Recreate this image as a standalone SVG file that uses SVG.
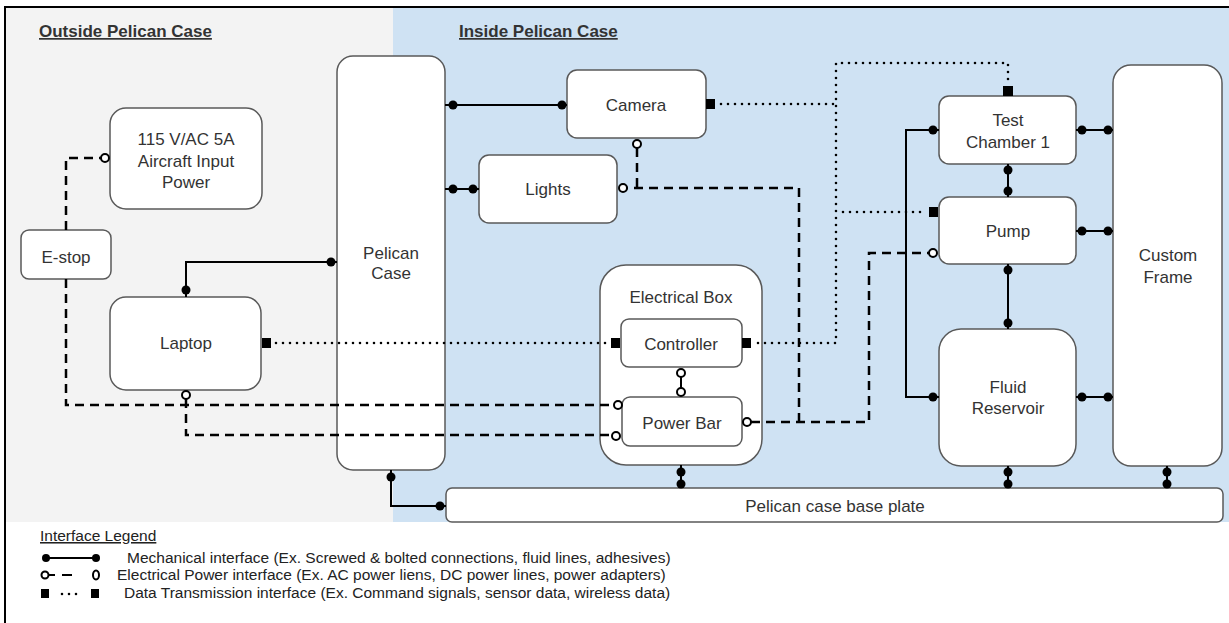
<svg xmlns="http://www.w3.org/2000/svg" width="1229" height="623" viewBox="0 0 1229 623">
<style>
.node{fill:#fff;stroke:#595959;stroke-width:1.5}
.t{font-family:"Liberation Sans",Arial,sans-serif;font-size:17px;fill:#333;text-anchor:middle}
.title{font-family:"Liberation Sans",Arial,sans-serif;font-size:17px;font-weight:bold;fill:#333;text-decoration:underline}
.lg{font-family:"Liberation Sans",Arial,sans-serif;font-size:15.5px;fill:#222}
.mech{fill:none;stroke:#000;stroke-width:2}
.elec{fill:none;stroke:#000;stroke-width:2.5;stroke-dasharray:9 6}
.data{fill:none;stroke:#000;stroke-width:2.6;stroke-dasharray:0 7;stroke-linecap:round}
.dot{fill:#000}
.ring{fill:#fff;stroke:#000;stroke-width:2}
.sq{fill:#000}
</style>
<rect x="0" y="0" width="1229" height="623" fill="#fff"/>
<rect x="5" y="7" width="388" height="515" fill="#f3f3f3"/>
<rect x="393" y="7" width="836" height="515" fill="#cfe2f3"/>
<path d="M5 623 V7 H1229" fill="none" stroke="#000" stroke-width="2"/>
<text class="title" x="39" y="37">Outside Pelican Case</text>
<text class="title" x="459" y="37">Inside Pelican Case</text>

<g id="aircraft-power"><rect class="node" x="110" y="108" width="152" height="101" rx="16"/>
<text class="t" x="186" y="145">115 V/AC 5A</text><text class="t" x="186" y="167">Aircraft Input</text><text class="t" x="186" y="188">Power</text></g>
<g id="e-stop"><rect class="node" x="21" y="230" width="90" height="49" rx="8"/><text class="t" x="66" y="263">E-stop</text></g>
<g id="laptop"><rect class="node" x="110" y="297" width="151" height="93" rx="16"/><text class="t" x="186" y="349">Laptop</text></g>
<g id="pelican-case"><rect class="node" x="337" y="56" width="108" height="414" rx="16"/>
<text class="t" x="391" y="259">Pelican</text><text class="t" x="391" y="279">Case</text></g>
<g id="camera"><rect class="node" x="567" y="70" width="139" height="68" rx="10"/><text class="t" x="636" y="111">Camera</text></g>
<g id="lights"><rect class="node" x="479" y="155" width="138" height="68" rx="10"/><text class="t" x="548" y="195">Lights</text></g>
<g id="electrical-box"><rect class="node" x="600" y="265" width="162" height="200" rx="26"/><text class="t" x="681" y="303">Electrical Box</text>
<g id="controller"><rect class="node" x="621" y="319" width="121" height="48" rx="8"/><text class="t" x="681" y="350">Controller</text></g>
<g id="power-bar"><rect class="node" x="622" y="397" width="120" height="49" rx="8"/><text class="t" x="682" y="429">Power Bar</text></g>
</g>
<g id="base-plate"><rect class="node" x="446" y="488" width="777" height="34" rx="6"/><text class="t" x="835" y="512">Pelican case base plate</text></g>
<g id="test-chamber"><rect class="node" x="939" y="96" width="137" height="68" rx="10"/>
<text class="t" x="1008" y="126">Test</text><text class="t" x="1008" y="148">Chamber 1</text></g>
<g id="pump"><rect class="node" x="939" y="197" width="137" height="67" rx="10"/><text class="t" x="1008" y="237">Pump</text></g>
<g id="fluid-reservoir"><rect class="node" x="939" y="329" width="137" height="137" rx="22"/>
<text class="t" x="1008" y="393">Fluid</text><text class="t" x="1008" y="414">Reservoir</text></g>
<g id="custom-frame"><rect class="node" x="1113" y="65" width="109" height="401" rx="18"/>
<text class="t" x="1168" y="261">Custom</text><text class="t" x="1168" y="283">Frame</text></g>

<g id="connectors">
<g id="mechanical">
<path class="mech" d="M445 105 H567"/>
<path class="mech" d="M445 189 H479"/>
<path class="mech" d="M186 297 V262 H337"/>
<path class="mech" d="M391 470 V506 H446"/>
<path class="mech" d="M681 465 V488"/>
<path class="mech" d="M939 130 H906 V397 H939"/>
<path class="mech" d="M1076 130 H1113"/>
<path class="mech" d="M1076 231 H1113"/>
<path class="mech" d="M1076 397 H1113"/>
<path class="mech" d="M1008 164 V197"/>
<path class="mech" d="M1008 264 V329"/>
<path class="mech" d="M1008 466 V488"/>
<path class="mech" d="M1167 466 V488"/>
<circle class="dot" cx="453" cy="105" r="4.5"/><circle class="dot" cx="562" cy="105" r="4.5"/>
<circle class="dot" cx="453" cy="189" r="4.5"/><circle class="dot" cx="473" cy="189" r="4.5"/>
<circle class="dot" cx="186" cy="290" r="4.5"/><circle class="dot" cx="331" cy="262" r="4.5"/>
<circle class="dot" cx="391" cy="477" r="4.5"/><circle class="dot" cx="440" cy="506" r="4.5"/>
<circle class="dot" cx="681" cy="472" r="4.5"/><circle class="dot" cx="681" cy="484" r="4.5"/>
<circle class="dot" cx="933" cy="130" r="4.5"/><circle class="dot" cx="933" cy="397" r="4.5"/>
<circle class="dot" cx="1082" cy="130" r="4.5"/><circle class="dot" cx="1108" cy="130" r="4.5"/>
<circle class="dot" cx="1082" cy="231" r="4.5"/><circle class="dot" cx="1108" cy="231" r="4.5"/>
<circle class="dot" cx="1082" cy="397" r="4.5"/><circle class="dot" cx="1108" cy="397" r="4.5"/>
<circle class="dot" cx="1008" cy="170" r="4.5"/><circle class="dot" cx="1008" cy="191" r="4.5"/>
<circle class="dot" cx="1008" cy="270" r="4.5"/><circle class="dot" cx="1008" cy="323" r="4.5"/>
<circle class="dot" cx="1008" cy="472" r="4.5"/><circle class="dot" cx="1008" cy="484" r="4.5"/>
<circle class="dot" cx="1167" cy="472" r="4.5"/><circle class="dot" cx="1167" cy="484" r="4.5"/>
</g>
<g id="electrical">
<path class="elec" d="M66 230 V158 H101"/>
<path class="elec" d="M66 279 V405 H614"/>
<path class="elec" d="M186 399 V435 H612"/>
<path class="elec" d="M751 422 H869 V253 H929"/>
<path class="elec" d="M799 422 V188 H627"/>
<path class="elec" d="M637 148 V188"/>
<path class="mech" d="M681 377 V388"/>
<circle class="ring" cx="105" cy="158" r="4"/>
<circle class="ring" cx="186" cy="395" r="4"/>
<circle class="ring" cx="618" cy="405" r="4"/>
<circle class="ring" cx="616" cy="436" r="4"/>
<circle class="ring" cx="747" cy="422" r="4"/>
<circle class="ring" cx="637" cy="144" r="4"/>
<circle class="ring" cx="623" cy="188" r="4"/>
<circle class="ring" cx="681" cy="373" r="4"/>
<circle class="ring" cx="681" cy="392" r="4"/>
<circle class="ring" cx="933" cy="253" r="4"/>
</g>
<g id="data">
<path class="data" d="M276 343 H608"/>
<path class="data" d="M758 343 H836 V63 H1008 V82"/>
<path class="data" d="M721 104 H836"/>
<path class="data" d="M843 212 H925"/>
<rect class="sq" x="262" y="338" width="9" height="10"/>
<rect class="sq" x="611" y="338" width="9" height="10"/>
<rect class="sq" x="742" y="338" width="9" height="10"/>
<rect class="sq" x="706" y="99" width="9" height="10"/>
<rect class="sq" x="929" y="207" width="9" height="10"/>
<rect class="sq" x="1003" y="86" width="10" height="10"/>
</g>
</g>

<g id="legend">
<text class="lg" x="40" y="541" text-decoration="underline">Interface Legend</text>
<path class="mech" d="M46 558 H96"/><circle class="dot" cx="46" cy="558" r="4"/><circle class="dot" cx="96" cy="558" r="4"/>
<circle class="ring" cx="45" cy="575" r="3.5"/><path class="mech" d="M49 575 H55 M62 575 H72"/><ellipse cx="96" cy="575" rx="3" ry="4.5" fill="#fff" stroke="#000" stroke-width="2"/>
<rect class="sq" x="41" y="589" width="8" height="9"/><path class="data" d="M62 594 H82"/><rect class="sq" x="91" y="589" width="8" height="9"/>
<text class="lg" x="127" y="563">Mechanical interface (Ex. Screwed &amp; bolted connections, fluid lines, adhesives)</text>
<text class="lg" x="117" y="580">Electrical Power interface (Ex. AC power liens, DC power lines, power adapters)</text>
<text class="lg" x="124" y="598">Data Transmission interface (Ex. Command signals, sensor data, wireless data)</text>
</g>
</svg>
